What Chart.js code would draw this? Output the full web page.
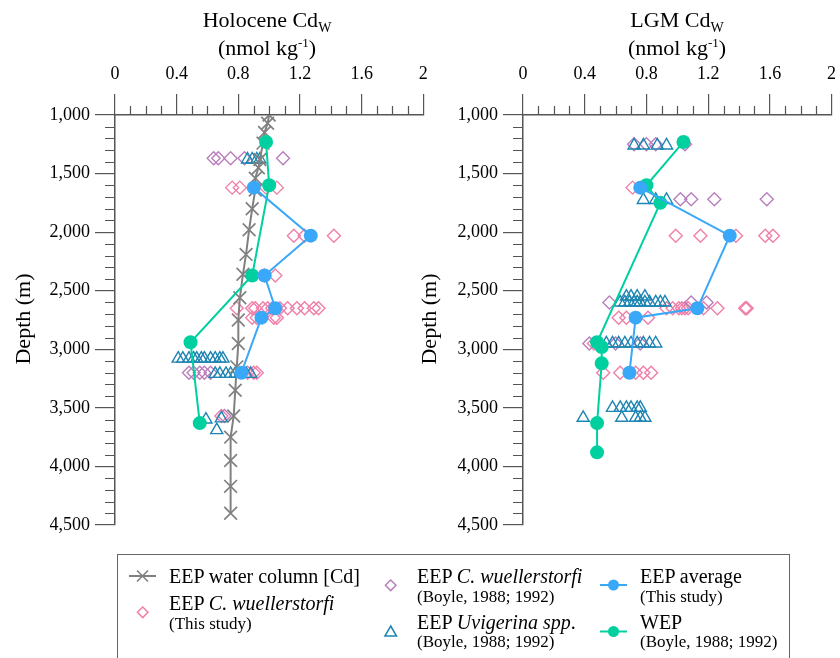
<!DOCTYPE html>
<html>
<head>
<meta charset="utf-8">
<script src="https://cdn.jsdelivr.net/npm/chart.js@4.4.1/dist/chart.umd.min.js"></script>
<style>
body { margin: 0; background: #fff; }
#page { position: relative; width: 840px; height: 658px; overflow: hidden; font-family: "Liberation Serif", "Times New Roman", serif; color: #000; }
canvas { position: absolute; top: 0; }
.title { position: absolute; width: 300px; text-align: center; font-size: 22px; line-height: 26px; white-space: nowrap; }
.title sub { font-size: 14px; vertical-align: -5px; line-height: 0; }
.title sup { font-size: 13px; vertical-align: 8px; line-height: 0; }
.ylab { position: absolute; width: 120px; text-align: center; font-size: 22px; line-height: 26px; transform: rotate(-90deg); white-space: nowrap; }
#legend { position: absolute; left: 117px; top: 554px; width: 671px; height: 140px; border: 1px solid #666; }
.lt { position: absolute; font-size: 20px; line-height: 22px; white-space: nowrap; }
.ls { position: absolute; font-size: 17px; line-height: 20px; white-space: nowrap; }
svg { position: absolute; left: 0; top: 0; }
</style>
</head>
<body>
<div id="page">
  <canvas id="holo" width="434" height="545" style="left:0px"></canvas>
  <canvas id="lgm" width="420" height="545" style="left:420px"></canvas>

  <div class="title" style="left:117px;top:7px">Holocene Cd<sub>W</sub></div>
  <div class="title" style="left:117px;top:35px">(nmol kg<sup>-1</sup>)</div>
  <div class="title" style="left:527px;top:7px">LGM Cd<sub>W</sub></div>
  <div class="title" style="left:527px;top:35px">(nmol kg<sup>-1</sup>)</div>

  <div class="ylab" style="left:-37px;top:306px">Depth (m)</div>
  <div class="ylab" style="left:369px;top:306px">Depth (m)</div>

  <div id="legend"></div>
  <svg width="840" height="658">
    <line x1="129" y1="576" x2="156" y2="576" stroke="#808080" stroke-width="2"/>
    <path d="M137 570.5 L148 581.5 M148 570.5 L137 581.5" stroke="#808080" stroke-width="1.6"/>
    <path d="M142.7 607 L148 612.3 L142.7 617.6 L137.4 612.3 Z" fill="none" stroke="#f07fa9" stroke-width="1.5"/>
    <path d="M390.7 580 L396 585.3 L390.7 590.6 L385.4 585.3 Z" fill="none" stroke="#b97fbd" stroke-width="1.5"/>
    <path d="M390.7 626 L396.5 636 L384.9 636 Z" fill="none" stroke="#1f86b3" stroke-width="1.5"/>
    <line x1="600" y1="585" x2="627" y2="585" stroke="#3aa8f8" stroke-width="2"/>
    <circle cx="613.5" cy="585" r="5.5" fill="#3aa8f8"/>
    <line x1="600" y1="631.5" x2="627" y2="631.5" stroke="#00d0a0" stroke-width="2"/>
    <circle cx="613.5" cy="631.5" r="5.5" fill="#00d0a0"/>
  </svg>
  <div class="lt" style="left:169px;top:565px">EEP water column [Cd]</div>
  <div class="lt" style="left:169px;top:592px">EEP <i>C. wuellerstorfi</i></div>
  <div class="ls" style="left:169px;top:614px">(This study)</div>
  <div class="lt" style="left:417px;top:565px">EEP <i>C. wuellerstorfi</i></div>
  <div class="ls" style="left:417px;top:587px">(Boyle, 1988; 1992)</div>
  <div class="lt" style="left:417px;top:611px">EEP <i>Uvigerina spp</i>.</div>
  <div class="ls" style="left:417px;top:632px">(Boyle, 1988; 1992)</div>
  <div class="lt" style="left:640px;top:565px">EEP average</div>
  <div class="ls" style="left:640px;top:587px">(This study)</div>
  <div class="lt" style="left:640px;top:611px">WEP</div>
  <div class="ls" style="left:640px;top:632px">(Boyle, 1988; 1992)</div>
</div>

<script>
// ---- Holocene panel data (depth in m, Cd_W in nmol/kg) ----
const waterDepth = [1000, 1070, 1150, 1240, 1380, 1450, 1540, 1640, 1800, 1980, 2190, 2360, 2560, 2750, 2950, 3150, 3350, 3570, 3750, 3950, 4170, 4400];
const waterCd    = [1.00, 0.99, 0.97, 0.96, 0.94, 0.93, 0.91, 0.91, 0.89, 0.87, 0.85, 0.83, 0.81, 0.80, 0.80, 0.79, 0.78, 0.77, 0.75, 0.75, 0.75, 0.75];

const holoAvgDepth = [1620, 2030, 2370, 2650, 2730, 3200];
const holoAvgCd    = [0.90, 1.27, 0.97, 1.04, 0.95, 0.82];
const holoWepDepth = [1230, 1600, 2370, 2940, 3630];
const holoWepCd    = [0.98, 1.00, 0.89, 0.49, 0.55];

const holoCwDepth = [1620, 1620, 1620, 1620, 2030, 2030, 2030, 2370, 2370,
  2650, 2650, 2650, 2650, 2650, 2650, 2650, 2650, 2650, 2650, 2650, 2650,
  2730, 2730, 2730, 2730, 3200, 3200, 3200, 3570];
const holoCwCd = [0.76, 0.81, 0.98, 1.05, 1.16, 1.23, 1.42, 0.97, 1.04,
  0.79, 0.89, 0.91, 0.96, 0.99, 1.02, 1.07, 1.12, 1.18, 1.23, 1.29, 1.32,
  0.89, 0.92, 1.03, 1.05, 0.86, 0.90, 0.92, 0.69];

const holoBoyleCwDepth = [1370, 1370, 1370, 1370, 1370, 3200, 3200, 3200, 3200, 3200, 3570];
const holoBoyleCwCd    = [0.64, 0.67, 0.75, 0.84, 1.09, 0.48, 0.51, 0.55, 0.58, 0.62, 0.71];

const holoUvDepth = [1380, 1380, 1380, 1380,
  3080, 3080, 3080, 3080, 3080, 3080, 3080, 3080, 3080, 3080, 3080,
  3210, 3210, 3210, 3210, 3210, 3210, 3210, 3210, 3600, 3590, 3690];
const holoUvCd = [0.86, 0.89, 0.92, 0.94,
  0.41, 0.44, 0.48, 0.51, 0.53, 0.56, 0.58, 0.62, 0.65, 0.68, 0.70,
  0.65, 0.68, 0.72, 0.75, 0.78, 0.81, 0.85, 0.88, 0.59, 0.69, 0.66];

// ---- LGM panel data ----
const lgmAvgDepth = [1620, 2030, 2650, 2730, 3200];
const lgmAvgCd    = [0.76, 1.34, 1.13, 0.73, 0.69];
const lgmWepDepth = [1230, 1600, 1750, 2940, 2980, 3120, 3630, 3880];
const lgmWepCd    = [1.04, 0.80, 0.89, 0.48, 0.51, 0.51, 0.48, 0.48];

const lgmCwDepth = [1620, 2030, 2030, 2030, 2030, 2030,
  2650, 2650, 2650, 2650, 2650, 2650, 2650, 2650, 2650, 2650,
  2730, 2730, 2730, 2950, 3200, 3200, 3200, 3200, 3200];
const lgmCwCd = [0.71, 0.99, 1.15, 1.38, 1.57, 1.62,
  0.93, 0.97, 1.01, 1.03, 1.05, 1.07, 1.17, 1.26, 1.44, 1.45,
  0.62, 0.67, 0.81, 0.46, 0.52, 0.63, 0.73, 0.78, 0.83];

const lgmBoyleCwDepth = [1250, 1250, 1250, 1250, 1720, 1720, 1720, 1720, 2600, 2600, 2600, 2950, 2950, 2950];
const lgmBoyleCwCd    = [0.72, 0.80, 0.86, 1.05, 1.02, 1.09, 1.24, 1.58, 0.56, 1.09, 1.19, 0.43, 0.60, 0.76];

const lgmUvDepth = [1260, 1260, 1260, 1260, 1725, 1725, 1725,
  2550, 2550, 2550, 2550,
  2600, 2600, 2600, 2600, 2600, 2600, 2600, 2600, 2600, 2600, 2600,
  2950, 2950, 2950, 2950, 2950, 2950, 2950, 2950, 2950, 2950,
  3500, 3500, 3500, 3500, 3500, 3500, 3585, 3585, 3585, 3585, 3585];
const lgmUvCd = [0.72, 0.78, 0.87, 0.93, 0.78, 0.86, 0.93,
  0.67, 0.70, 0.74, 0.79,
  0.63, 0.66, 0.69, 0.72, 0.74, 0.76, 0.79, 0.82, 0.86, 0.89, 0.92,
  0.50, 0.54, 0.58, 0.62, 0.66, 0.70, 0.74, 0.78, 0.82, 0.86,
  0.58, 0.63, 0.67, 0.70, 0.74, 0.76, 0.39, 0.64, 0.73, 0.76, 0.79];

const xTicks = [0, 0.4, 0.8, 1.2, 1.6, 2];
const depthTicks = [1000, 1500, 2000, 2500, 3000, 3500, 4000, 4500];

const axisColor = '#555';
const serif = 'Liberation Serif';

function pts(depths, vals) {
  return depths.map((d, i) => ({ x: vals[i], y: d }));
}

// minor ticks every 0.1 on x and every 100 m on y (majors come from Chart.js)
const minorTicks = {
  id: 'minorTicks',
  afterDraw(chart) {
    const ctx = chart.ctx;
    const x = chart.scales.x, y = chart.scales.y;
    const area = chart.chartArea;
    ctx.save();
    ctx.strokeStyle = axisColor;
    ctx.lineWidth = 1.2;
    ctx.beginPath();
    for (let i = 1; i < 20; i++) {
      if (i % 4 === 0) continue;
      const px = Math.round(x.getPixelForValue(i / 10)) + 0.5;
      ctx.moveTo(px, area.top);
      ctx.lineTo(px, area.top - 9);
    }
    for (let d = 1100; d < 4500; d += 100) {
      if (d % 500 === 0) continue;
      const py = Math.round(y.getPixelForValue(d)) + 0.5;
      ctx.moveTo(area.left, py);
      ctx.lineTo(area.left - 10, py);
    }
    ctx.stroke();
    ctx.restore();
  }
};

function avgSet(data) {
  return { data: data, showLine: true, borderColor: '#3aa8f8', backgroundColor: '#3aa8f8', borderWidth: 2,
    pointStyle: 'circle', pointRadius: 7, pointBorderWidth: 0 };
}
function wepSet(data) {
  return { data: data, showLine: true, borderColor: '#00d0a0', backgroundColor: '#00d0a0', borderWidth: 2,
    pointStyle: 'circle', pointRadius: 7, pointBorderWidth: 0 };
}
function markSet(data, style, color, r) {
  return { data: data, showLine: false, pointStyle: style, borderColor: color, backgroundColor: 'rgba(0,0,0,0)',
    pointRadius: r, pointBorderWidth: 1.4 };
}

function makeChart(id, leftWidth, rightPad, datasets) {
  return new Chart(document.getElementById(id), {
    type: 'scatter',
    data: { datasets: datasets },
    options: {
      responsive: false,
      animation: false,
      layout: { padding: { left: 0, top: 0, right: rightPad, bottom: 20 } },
      plugins: { legend: { display: false }, tooltip: { enabled: false } },
      scales: {
        x: {
          type: 'linear', position: 'top', min: 0, max: 2,
          afterBuildTicks: s => { s.ticks = xTicks.map(v => ({ value: v })); },
          afterFit: s => { s.height = 115; s.paddingLeft = 0; s.paddingRight = 0; },
          ticks: { color: '#000', font: { family: serif, size: 18 }, padding: 9, maxRotation: 0, autoSkip: false,
            callback: v => String(Math.round(v * 10) / 10) },
          grid: { drawOnChartArea: false, tickLength: 21, color: axisColor, lineWidth: 1.2 },
          border: { color: axisColor, width: 1.5 }
        },
        y: {
          type: 'linear', reverse: true, min: 1000, max: 4500,
          afterBuildTicks: s => { s.ticks = depthTicks.map(v => ({ value: v })); },
          afterFit: s => { s.width = leftWidth; s.paddingTop = 0; s.paddingBottom = 0; },
          ticks: { color: '#000', font: { family: serif, size: 18 }, padding: 5, autoSkip: false,
            callback: v => v.toLocaleString('en-US') },
          grid: { drawOnChartArea: false, tickLength: 20, color: axisColor, lineWidth: 1.2 },
          border: { color: axisColor, width: 1.5 }
        }
      }
    },
    plugins: [minorTicks]
  });
}

makeChart('holo', 115, 7, [
  avgSet(pts(holoAvgDepth, holoAvgCd)),
  wepSet(pts(holoWepDepth, holoWepCd)),
  { data: pts(waterDepth, waterCd), showLine: true, borderColor: '#808080', backgroundColor: '#808080',
    borderWidth: 2, pointStyle: 'crossRot', pointRadius: 9, pointBorderWidth: 1.7 },
  markSet(pts(holoUvDepth, holoUvCd), 'triangle', '#1f86b3', 7),
  markSet(pts(holoBoyleCwDepth, holoBoyleCwCd), 'rectRot', '#b97fbd', 6.5),
  markSet(pts(holoCwDepth, holoCwCd), 'rectRot', '#f07fa9', 6.5)
]);

makeChart('lgm', 103, 8, [
  avgSet(pts(lgmAvgDepth, lgmAvgCd)),
  wepSet(pts(lgmWepDepth, lgmWepCd)),
  markSet(pts(lgmUvDepth, lgmUvCd), 'triangle', '#1f86b3', 7),
  markSet(pts(lgmBoyleCwDepth, lgmBoyleCwCd), 'rectRot', '#b97fbd', 6.5),
  markSet(pts(lgmCwDepth, lgmCwCd), 'rectRot', '#f07fa9', 6.5)
]);
</script>
</body>
</html>
